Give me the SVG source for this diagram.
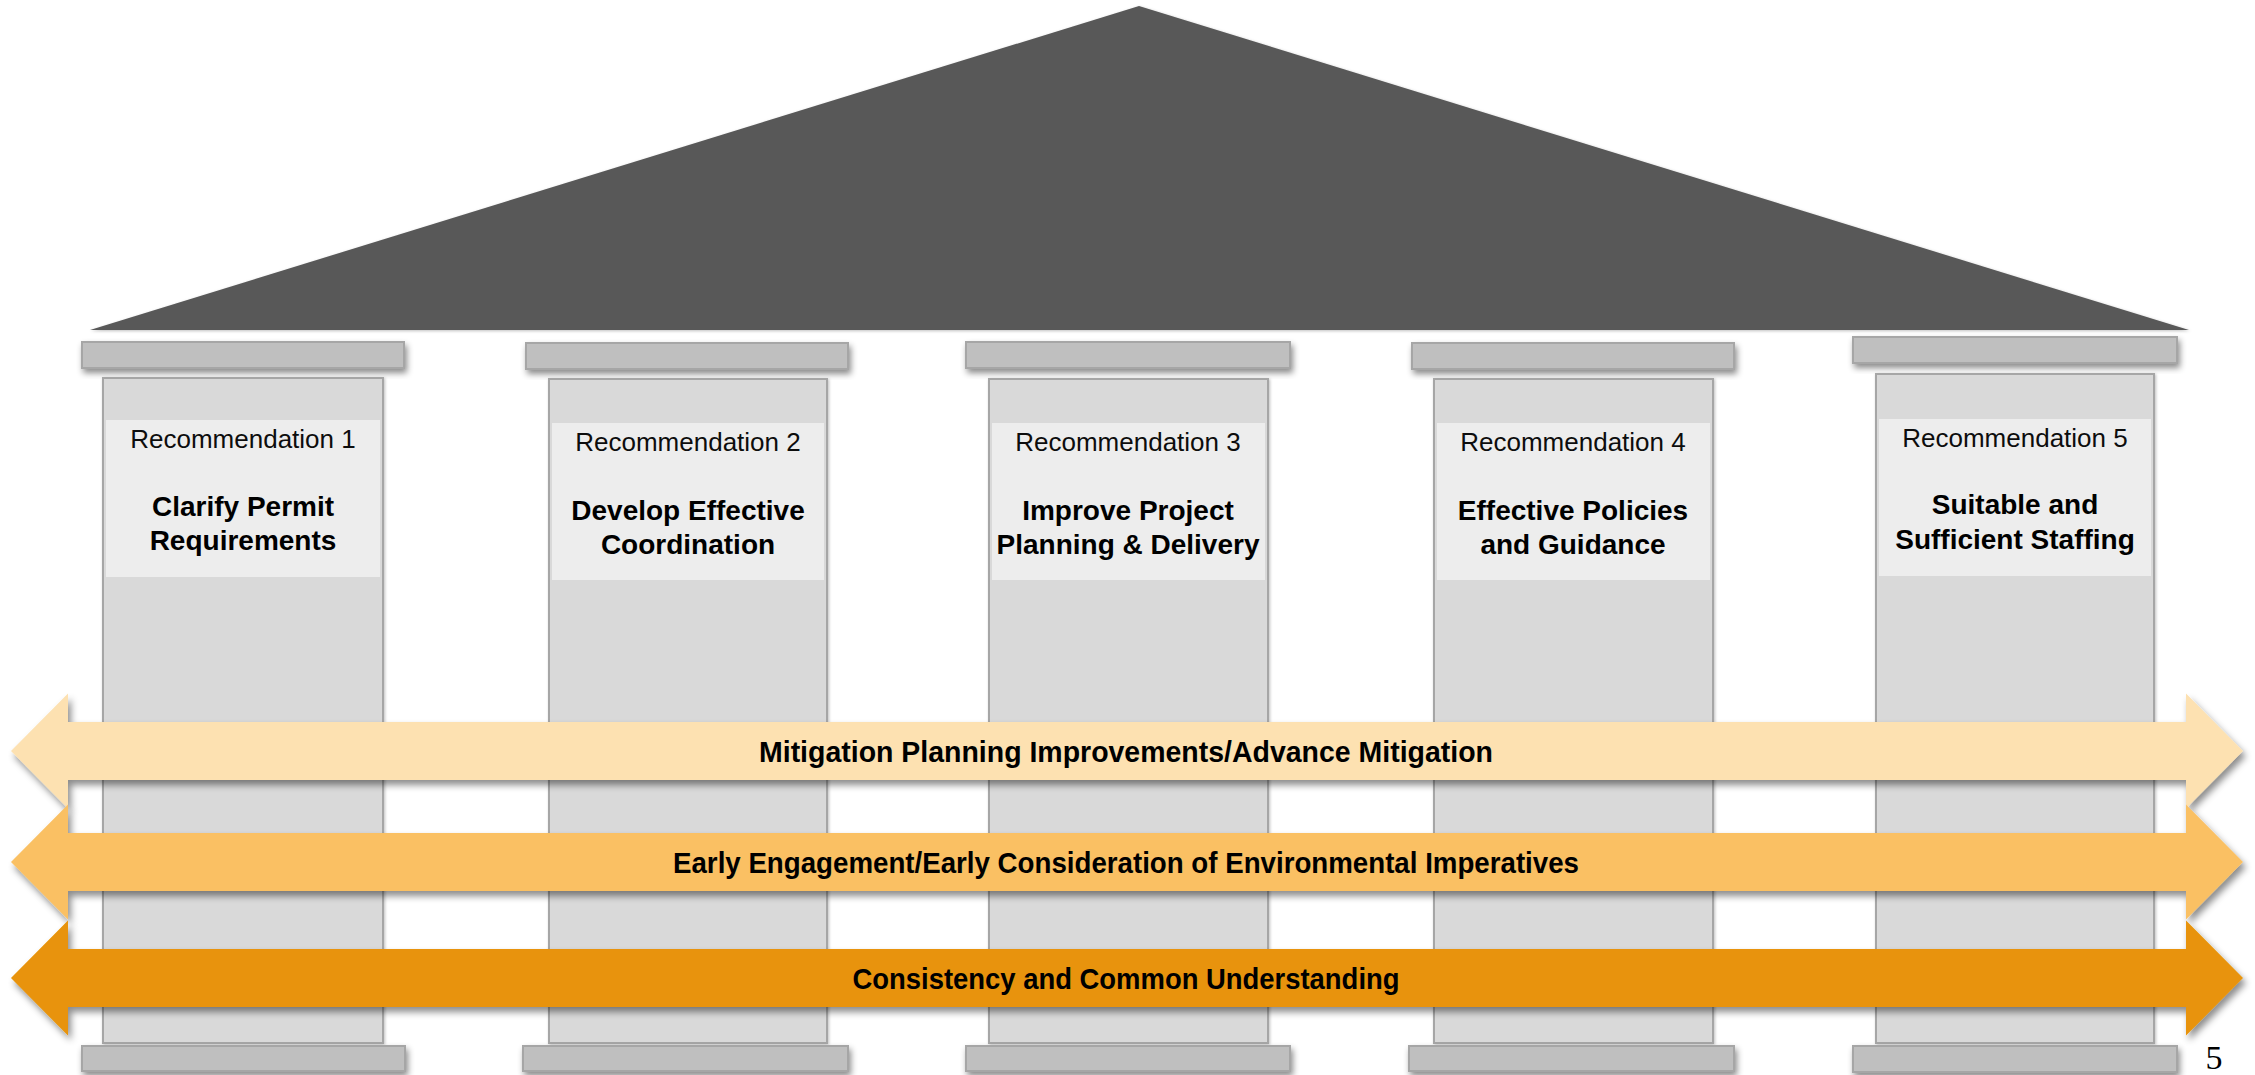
<svg xmlns="http://www.w3.org/2000/svg" width="2255" height="1075" viewBox="0 0 2255 1075">
<defs>
<filter id="sh" x="-5%" y="-30%" width="110%" height="170%">
<feDropShadow dx="2" dy="4" stdDeviation="3" flood-color="#000" flood-opacity="0.45"/>
</filter>
<filter id="shA" x="-2%" y="-20%" width="104%" height="150%">
<feDropShadow dx="3" dy="5" stdDeviation="3.5" flood-color="#000" flood-opacity="0.45"/>
</filter>
<filter id="shC" x="-2%" y="-2%" width="104%" height="104%">
<feDropShadow dx="1" dy="1" stdDeviation="1.5" flood-color="#000" flood-opacity="0.25"/>
</filter>
</defs>
<style>
.cap{fill:#BFBFBF;stroke:#A6A6A6;stroke-width:2;filter:url(#sh)}
.col{fill:#D9D9D9;stroke:#A6A6A6;stroke-width:2;filter:url(#shC)}
.box{fill:#EDEDED}
.base{fill:#BFBFBF;stroke:#A6A6A6;stroke-width:2;filter:url(#sh)}
.rec{font-family:"Liberation Sans",Arial,sans-serif;font-size:26px;fill:#0D0D0D;text-anchor:middle}
.ttl{font-family:"Liberation Sans",Arial,sans-serif;font-size:28px;font-weight:bold;fill:#000;text-anchor:middle}
.atx{font-family:"Liberation Sans",Arial,sans-serif;font-size:30px;font-weight:bold;fill:#000;text-anchor:middle}
.arr{filter:url(#shA)}
</style>
<rect width="2255" height="1075" fill="#FFFFFF"/>
<g id="roof">
<polygon points="90,330 1139,6 2189,330" fill="#595959" filter="url(#shC)"/>
</g>
<g id="pillar1">
<rect class="cap" x="82" y="342" width="322" height="26"/>
<rect class="col" x="103" y="378" width="280" height="665"/>
<rect class="box" x="106" y="420" width="274" height="157"/>
<rect class="base" x="82" y="1046" width="323" height="25"/>
<text class="rec" x="243" y="448">Recommendation 1</text>
<text class="ttl" x="243" y="516">Clarify Permit</text>
<text class="ttl" x="243" y="550">Requirements</text>
</g>
<g id="pillar2">
<rect class="cap" x="526" y="343" width="322" height="26"/>
<rect class="col" x="549" y="379" width="278" height="664"/>
<rect class="box" x="552" y="423" width="272" height="157"/>
<rect class="base" x="523" y="1046" width="325" height="25"/>
<text class="rec" x="688" y="451">Recommendation 2</text>
<text class="ttl" x="688" y="520">Develop Effective</text>
<text class="ttl" x="688" y="554">Coordination</text>
</g>
<g id="pillar3">
<rect class="cap" x="966" y="342" width="324" height="26"/>
<rect class="col" x="989" y="379" width="279" height="664"/>
<rect class="box" x="992" y="423" width="273" height="157"/>
<rect class="base" x="966" y="1046" width="324" height="25"/>
<text class="rec" x="1128" y="451">Recommendation 3</text>
<text class="ttl" x="1128" y="520">Improve Project</text>
<text class="ttl" x="1128" y="554">Planning &amp; Delivery</text>
</g>
<g id="pillar4">
<rect class="cap" x="1412" y="343" width="322" height="26"/>
<rect class="col" x="1434" y="379" width="279" height="664"/>
<rect class="box" x="1437" y="423" width="273" height="157"/>
<rect class="base" x="1409" y="1046" width="325" height="25"/>
<text class="rec" x="1573" y="451">Recommendation 4</text>
<text class="ttl" x="1573" y="520">Effective Policies</text>
<text class="ttl" x="1573" y="554">and Guidance</text>
</g>
<g id="pillar5">
<rect class="cap" x="1853" y="337" width="324" height="26"/>
<rect class="col" x="1876" y="374" width="278" height="669"/>
<rect class="box" x="1879" y="419" width="272" height="157"/>
<rect class="base" x="1853" y="1046" width="324" height="26"/>
<text class="rec" x="2015" y="447">Recommendation 5</text>
<text class="ttl" x="2015" y="514">Suitable and</text>
<text class="ttl" x="2015" y="549">Sufficient Staffing</text>
</g>
<g id="bands">
<g id="band1">
<polygon class="arr" fill="#FDE1B1" points="11,751 68,693.5 68,722 2186,722 2186,693.5 2243,751 2186,808.5 2186,780 68,780 68,808.5"/>
<text class="atx" x="1126" y="762" textLength="734" lengthAdjust="spacingAndGlyphs">Mitigation Planning Improvements/Advance Mitigation</text>
</g>
<g id="band2">
<polygon class="arr" fill="#FAC064" points="11,862 68,804.5 68,833 2186,833 2186,804.5 2243,862 2186,919.5 2186,891 68,891 68,919.5"/>
<text class="atx" x="1126" y="873" textLength="906" lengthAdjust="spacingAndGlyphs">Early Engagement/Early Consideration of Environmental Imperatives</text>
</g>
<g id="band3">
<polygon class="arr" fill="#E89307" points="11,978 68,920.5 68,949 2186,949 2186,920.5 2243,978 2186,1035.5 2186,1007 68,1007 68,1035.5"/>
<text class="atx" x="1126" y="989" textLength="547" lengthAdjust="spacingAndGlyphs">Consistency and Common Understanding</text>
</g>
</g>
<g id="pagenum">
<text x="2214" y="1069" font-family="'Liberation Serif','Times New Roman',serif" font-size="34" text-anchor="middle" fill="#000">5</text>
</g>
</svg>
